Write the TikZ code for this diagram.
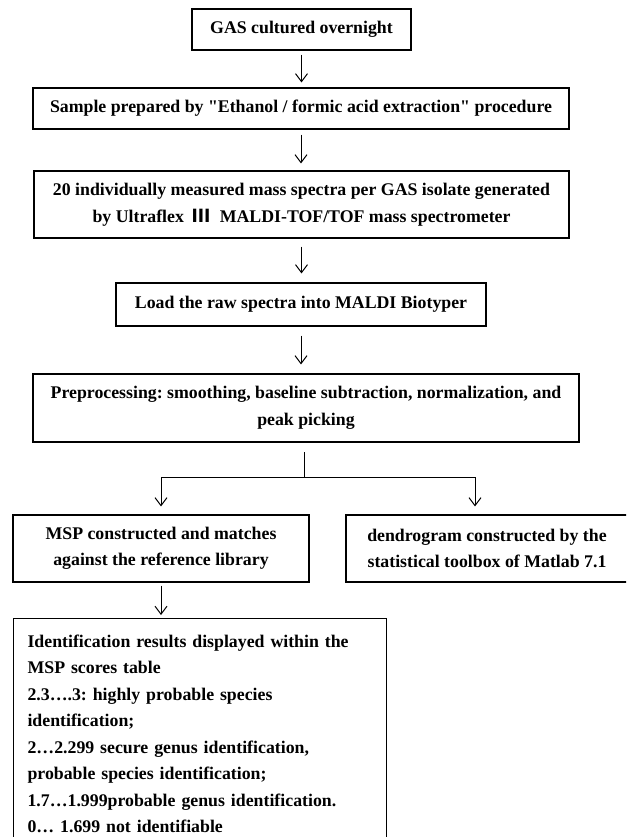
\documentclass[tikz,border=0pt]{standalone}
\usepackage{fontspec}
\setmainfont{Liberation Serif}
\newfontfamily\cjk{Noto Sans CJK SC}
\usetikzlibrary{arrows.meta}
\frenchspacing
\begin{document}
\begin{tikzpicture}[x=1pt,y=-1pt,
  box/.style={draw, line width=1.1pt, inner sep=0pt, align=center,
    font=\bfseries\fontsize{17.8}{26.5}\selectfont},
  arr/.style={-{Straight Barb[length=8pt,width=12pt]}, line width=1pt},
  plain/.style={line width=1pt},
]
\clip (0,0) rectangle (626,837);
\fill[white] (0,0) rectangle (626,837);
\node[box, minimum width=219pt, minimum height=41pt] (b1) at (301.5,29.5) {GAS cultured overnight};
\node[box, minimum width=536pt, minimum height=41pt] (b2) at (301,108.5) {Sample prepared by \textquotedbl Ethanol / formic acid extraction\textquotedbl{} procedure};
\node[box, minimum width=535pt, minimum height=67pt] (b3) at (301.5,204.5) {20 individually measured mass spectra per GAS isolate generated\\by Ultraflex\hspace{9pt}{\cjk Ⅲ}\hspace{9pt}MALDI-TOF/TOF mass spectrometer};
\node[box, minimum width=370pt, minimum height=43pt] (b4) at (301,304.5) {Load the raw spectra into MALDI Biotyper};
\node[box, minimum width=546pt, minimum height=68pt] (b5) at (306,408) {Preprocessing: smoothing, baseline subtraction, normalization, and\\peak picking};
\node[box, minimum width=296pt, minimum height=67pt] (b6) at (161,548.5) {MSP constructed and matches\\against the reference library};
\node[box, minimum width=282pt, minimum height=67pt] (b7) at (487,548.5) {dendrogram constructed by the\\statistical toolbox of Matlab 7.1};
\node[box, anchor=north west, text width=345pt, inner xsep=14pt, inner ysep=16pt, align=left] (b8) at (13,618) {Identification results displayed within the\\MSP scores table\\2.3….3: highly probable species\\identification;\\2…2.299 secure genus identification,\\probable species identification;\\1.7…1.999probable genus identification.\\0… 1.699 not identifiable};

\draw[arr] ([yshift=-4pt]b1.south) -- ([yshift=5pt]b1.south |- b2.north);
\draw[arr] ([yshift=-5pt]b2.south) -- ([yshift=7pt]b2.south |- b3.north);
\draw[arr] ([yshift=-8pt]b3.south) -- ([yshift=9pt]b3.south |- b4.north);
\draw[arr] ([yshift=-9pt]b4.south) -- ([yshift=9pt]b4.south |- b5.north);
\coordinate (s0) at (304,452);
\coordinate (split) at (304,477);
\draw[plain] (s0) -- (split);
\draw[arr] (split) -| ([yshift=8pt]b6.north);
\draw[arr] (split) -| ([xshift=-12pt,yshift=8pt]b7.north);
\draw[arr] ([yshift=-3pt]b6.south) -- ([yshift=3pt]b6.south |- b8.north);
\end{tikzpicture}
\end{document}
